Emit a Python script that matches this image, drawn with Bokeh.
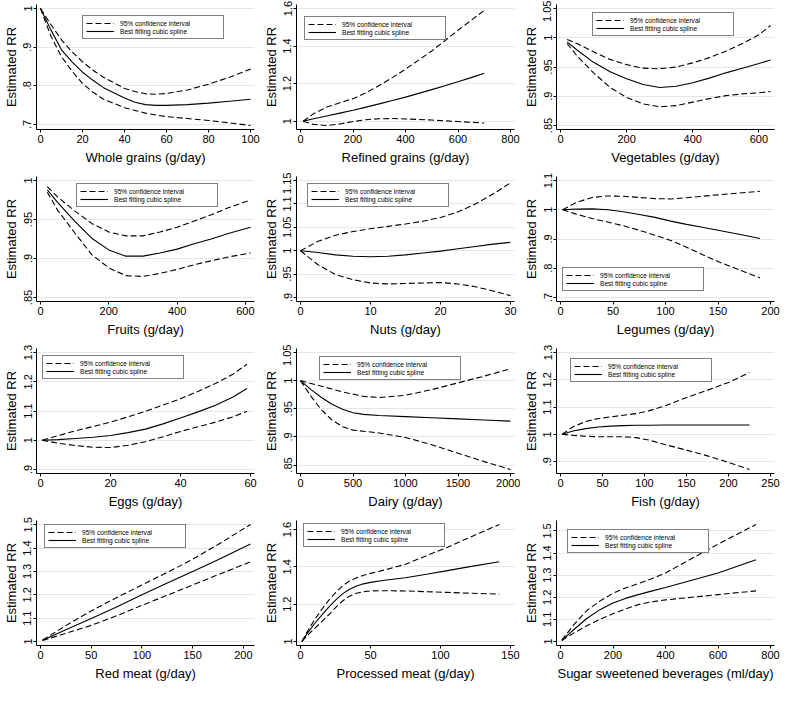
from bokeh.plotting import figure
from bokeh.layouts import gridplot
from bokeh.models import Range1d, FixedTicker, Legend, LegendItem, CustomJSTickFormatter
from bokeh.embed import file_html
from bokeh.resources import INLINE

# ---------------- data ----------------
wg_x = [0, 5, 10, 15, 20, 25, 30, 40, 45, 50, 55, 60, 70, 80, 90, 100]
wg_rr = [1.0, 0.944, 0.893, 0.862, 0.835, 0.814, 0.795, 0.768, 0.757, 0.751, 0.749, 0.749, 0.751, 0.755, 0.760, 0.765]
wg_hi = [1.0, 0.958, 0.919, 0.888, 0.862, 0.840, 0.822, 0.793, 0.785, 0.779, 0.778, 0.780, 0.789, 0.804, 0.822, 0.843]
wg_lo = [1.0, 0.928, 0.875, 0.838, 0.806, 0.783, 0.765, 0.743, 0.736, 0.729, 0.724, 0.720, 0.715, 0.710, 0.704, 0.697]
wg_xticks = [0, 20, 40, 60, 80, 100]
wg_yticks = [0.7, 0.8, 0.9, 1.0]

rg_x = [10, 50, 100, 150, 200, 250, 300, 350, 400, 450, 500, 550, 600, 650, 700]
rg_rr = [1.0, 1.013, 1.028, 1.043, 1.058, 1.075, 1.092, 1.110, 1.128, 1.148, 1.168, 1.189, 1.210, 1.232, 1.255]
rg_hi = [1.0, 1.040, 1.075, 1.098, 1.120, 1.152, 1.190, 1.232, 1.277, 1.325, 1.374, 1.428, 1.484, 1.537, 1.590]
rg_lo = [1.0, 0.983, 0.977, 0.985, 0.998, 1.008, 1.013, 1.014, 1.012, 1.009, 1.006, 1.002, 0.998, 0.994, 0.990]
rg_xticks = [0, 200, 400, 600, 800]
rg_yticks = [1.0, 1.2, 1.4, 1.6]

vg_x = [20, 50, 100, 150, 200, 250, 300, 350, 400, 450, 500, 550, 600, 635]
vg_rr = [0.993, 0.979, 0.958, 0.942, 0.930, 0.920, 0.915, 0.917, 0.923, 0.931, 0.940, 0.948, 0.956, 0.962]
vg_hi = [0.997, 0.990, 0.976, 0.963, 0.954, 0.948, 0.947, 0.950, 0.957, 0.966, 0.977, 0.990, 1.005, 1.021]
vg_lo = [0.990, 0.969, 0.940, 0.915, 0.898, 0.887, 0.882, 0.884, 0.890, 0.896, 0.901, 0.904, 0.906, 0.908]
vg_xticks = [0, 200, 400, 600]
vg_yticks = [0.85, 0.9, 0.95, 1.0, 1.05]

fr_x = [20, 50, 100, 150, 200, 250, 300, 350, 400, 450, 500, 550, 615]
fr_rr = [0.988, 0.972, 0.948, 0.926, 0.911, 0.903, 0.903, 0.907, 0.912, 0.919, 0.925, 0.932, 0.940]
fr_hi = [0.992, 0.979, 0.961, 0.945, 0.934, 0.929, 0.929, 0.934, 0.940, 0.948, 0.956, 0.965, 0.975]
fr_lo = [0.985, 0.962, 0.933, 0.905, 0.888, 0.878, 0.877, 0.881, 0.886, 0.892, 0.897, 0.902, 0.907]
fr_xticks = [0, 200, 400, 600]
fr_yticks = [0.85, 0.9, 0.95, 1.0]

nu_x = [0, 2.5, 5, 7.5, 10, 12.5, 15, 17.5, 20, 22.5, 25, 27.5, 30]
nu_rr = [1.0, 0.996, 0.991, 0.988, 0.987, 0.988, 0.991, 0.995, 0.999, 1.004, 1.009, 1.014, 1.018]
nu_hi = [1.0, 1.020, 1.033, 1.041, 1.047, 1.052, 1.057, 1.063, 1.071, 1.083, 1.100, 1.121, 1.145]
nu_lo = [1.0, 0.970, 0.949, 0.938, 0.931, 0.929, 0.930, 0.931, 0.932, 0.929, 0.923, 0.914, 0.904]
nu_xticks = [0, 10, 20, 30]
nu_yticks = [0.9, 0.95, 1.0, 1.05, 1.1, 1.15]

le_x = [2, 15, 30, 45, 60, 75, 90, 105, 120, 135, 150, 170, 190]
le_rr = [1.0, 1.002, 1.003, 1.0, 0.993, 0.984, 0.974, 0.961, 0.950, 0.940, 0.930, 0.916, 0.902]
le_hi = [1.0, 1.025, 1.042, 1.047, 1.046, 1.042, 1.038, 1.037, 1.041, 1.046, 1.051, 1.057, 1.063]
le_lo = [1.0, 0.985, 0.970, 0.958, 0.945, 0.930, 0.913, 0.895, 0.872, 0.847, 0.823, 0.795, 0.767]
le_xticks = [0, 50, 100, 150, 200]
le_yticks = [0.7, 0.8, 0.9, 1.0, 1.1]

eg_x = [0.5, 5, 10, 15, 20, 25, 30, 35, 40, 45, 50, 55, 59]
eg_rr = [1.0, 1.002, 1.006, 1.010, 1.016, 1.026, 1.038, 1.056, 1.076, 1.097, 1.120, 1.148, 1.177]
eg_hi = [1.0, 1.016, 1.032, 1.047, 1.062, 1.080, 1.099, 1.120, 1.142, 1.167, 1.194, 1.226, 1.260]
eg_lo = [1.0, 0.990, 0.982, 0.976, 0.975, 0.983, 0.995, 1.012, 1.030, 1.046, 1.062, 1.080, 1.099]
eg_xticks = [0, 20, 40, 60]
eg_yticks = [0.9, 1.0, 1.1, 1.2, 1.3]

da_x = [0, 100, 200, 300, 400, 500, 600, 750, 1000, 1250, 1500, 1750, 2000]
da_rr = [1.0, 0.984, 0.970, 0.958, 0.949, 0.943, 0.940, 0.938, 0.936, 0.934, 0.932, 0.930, 0.928]
da_hi = [1.0, 0.995, 0.990, 0.985, 0.980, 0.976, 0.972, 0.970, 0.974, 0.984, 0.996, 1.008, 1.021]
da_lo = [1.0, 0.972, 0.948, 0.930, 0.918, 0.912, 0.910, 0.907, 0.899, 0.886, 0.871, 0.856, 0.842]
da_xticks = [0, 500, 1000, 1500, 2000]
da_yticks = [0.85, 0.9, 0.95, 1.0, 1.05]

fi_x = [2, 15, 30, 45, 60, 75, 90, 105, 125, 150, 175, 200, 225]
fi_rr = [1.0, 1.012, 1.021, 1.027, 1.030, 1.032, 1.033, 1.033, 1.034, 1.034, 1.034, 1.034, 1.034]
fi_hi = [1.0, 1.028, 1.047, 1.058, 1.064, 1.070, 1.076, 1.086, 1.105, 1.135, 1.162, 1.190, 1.226]
fi_lo = [1.0, 0.996, 0.993, 0.991, 0.991, 0.991, 0.988, 0.979, 0.962, 0.942, 0.921, 0.897, 0.871]
fi_xticks = [0, 50, 100, 150, 200, 250]
fi_yticks = [0.9, 1.0, 1.1, 1.2, 1.3]

rm_x = [2, 25, 50, 75, 100, 125, 150, 175, 207]
rm_rr = [1.005, 1.050, 1.098, 1.148, 1.200, 1.250, 1.300, 1.350, 1.418]
rm_hi = [1.006, 1.068, 1.131, 1.188, 1.242, 1.296, 1.352, 1.415, 1.501]
rm_lo = [1.004, 1.035, 1.069, 1.110, 1.155, 1.198, 1.242, 1.286, 1.341]
rm_xticks = [0, 50, 100, 150, 200]
rm_yticks = [1.0, 1.1, 1.2, 1.3, 1.4, 1.5]

pm_x = [1, 5, 10, 15, 20, 25, 30, 35, 40, 45, 50, 60, 75, 90, 105, 120, 142]
pm_rr = [1.0, 1.045, 1.095, 1.140, 1.183, 1.222, 1.255, 1.280, 1.297, 1.309, 1.317, 1.328, 1.342, 1.360, 1.380, 1.400, 1.427]
pm_hi = [1.0, 1.055, 1.116, 1.170, 1.219, 1.262, 1.298, 1.324, 1.341, 1.355, 1.365, 1.383, 1.414, 1.460, 1.505, 1.555, 1.627]
pm_lo = [1.0, 1.033, 1.069, 1.105, 1.142, 1.182, 1.217, 1.243, 1.259, 1.267, 1.271, 1.272, 1.271, 1.267, 1.263, 1.259, 1.254]
pm_xticks = [0, 50, 100, 150]
pm_yticks = [1.0, 1.2, 1.4, 1.6]

sb_x = [5, 50, 100, 150, 200, 250, 300, 350, 400, 500, 600, 745]
sb_rr = [1.005, 1.053, 1.104, 1.144, 1.174, 1.196, 1.213, 1.229, 1.244, 1.277, 1.310, 1.370]
sb_hi = [1.006, 1.075, 1.140, 1.183, 1.218, 1.243, 1.263, 1.285, 1.310, 1.375, 1.440, 1.529]
sb_lo = [1.004, 1.038, 1.071, 1.100, 1.125, 1.148, 1.168, 1.180, 1.188, 1.200, 1.212, 1.229]
sb_xticks = [0, 200, 400, 600, 800]
sb_yticks = [1.0, 1.1, 1.2, 1.3, 1.4, 1.5]

# ---------------- layout / style ----------------
FONT = "Liberation Sans"
FW, FH = 218, 125
BL, BR, BT, BB = 35, 6, 4, 43
PAD = 4.0
LEG_W_LABEL = 100
LEG_H = 22

panels = [
    ("Whole grains (g/day)", wg_x, wg_rr, wg_lo, wg_hi, wg_xticks, wg_yticks, ("top", 46, 13)),
    ("Refined grains (g/day)", rg_x, rg_rr, rg_lo, rg_hi, rg_xticks, rg_yticks, ("top", 8, 14)),
    ("Vegetables (g/day)", vg_x, vg_rr, vg_lo, vg_hi, vg_xticks, vg_yticks, ("top", 36, 10)),
    ("Fruits (g/day)", fr_x, fr_rr, fr_lo, fr_hi, fr_xticks, fr_yticks, ("top", 40, 9)),
    ("Nuts (g/day)", nu_x, nu_rr, nu_lo, nu_hi, nu_xticks, nu_yticks, ("top", 11, 9)),
    ("Legumes (g/day)", le_x, le_rr, le_lo, le_hi, le_xticks, le_yticks, ("bottom", 6, 10)),
    ("Eggs (g/day)", eg_x, eg_rr, eg_lo, eg_hi, eg_xticks, eg_yticks, ("top", 6, 9)),
    ("Dairy (g/day)", da_x, da_rr, da_lo, da_hi, da_xticks, da_yticks, ("top", 23, 10)),
    ("Fish (g/day)", fi_x, fi_rr, fi_lo, fi_hi, fi_xticks, fi_yticks, ("top", 14, 12)),
    ("Red meat (g/day)", rm_x, rm_rr, rm_lo, rm_hi, rm_xticks, rm_yticks, ("top", 8, 6)),
    ("Processed meat (g/day)", pm_x, pm_rr, pm_lo, pm_hi, pm_xticks, pm_yticks, ("top", 7, 5)),
    ("Sugar sweetened beverages (ml/day)", sb_x, sb_rr, sb_lo, sb_hi, sb_xticks, sb_yticks, ("top", 11, 11)),
]

fmt = CustomJSTickFormatter(code="""
let s = String(Math.round(tick * 10000) / 10000);
if (s.startsWith('0.')) { s = s.slice(1); }
return s;
""")


def padded(lo, hi, px):
    span = hi - lo
    p = span * PAD / (px - 2 * PAD)
    return Range1d(lo - p, hi + p)


def make_panel(xlabel, x, rr, lo, hi, xticks, yticks, leg):
    xmin = min(xticks[0], min(x))
    xmax = max(xticks[-1], max(x))
    ymin = min(yticks[0], min(lo))
    ymax = max(yticks[-1], max(hi))
    p = figure(frame_width=FW, frame_height=FH, output_backend="svg", toolbar_location=None,
               x_range=padded(xmin, xmax, FW), y_range=padded(ymin, ymax, FH),
               min_border_left=BL, min_border_right=BR, min_border_top=BT, min_border_bottom=BB)
    p.outline_line_color = None
    p.background_fill_color = "white"
    p.border_fill_color = "white"

    r_hi = p.line(x, hi, line_color="black", line_width=1.1, line_dash="6 3")
    p.line(x, lo, line_color="black", line_width=1.1, line_dash="6 3")
    r_mid = p.line(x, rr, line_color="black", line_width=1.1)

    p.xaxis.ticker = FixedTicker(ticks=xticks)
    p.yaxis.ticker = FixedTicker(ticks=yticks)
    p.xaxis.formatter = fmt
    p.yaxis.formatter = fmt
    p.xgrid.visible = False
    p.ygrid.grid_line_color = "#e6e6e6"
    p.ygrid.grid_line_width = 1

    for ax in (p.xaxis[0], p.yaxis[0]):
        ax.axis_line_color = "black"
        ax.axis_line_width = 1
        ax.major_tick_line_color = "black"
        ax.major_tick_out = 3
        ax.major_tick_in = 0
        ax.minor_tick_line_color = None
        ax.major_label_text_font = FONT
        ax.major_label_text_font_size = "11px"
        ax.major_label_text_color = "black"
        ax.major_label_standoff = 2
        ax.axis_label_text_font = FONT
        ax.axis_label_text_font_size = "13px"
        ax.axis_label_text_font_style = "normal"
        ax.axis_label_text_color = "black"
    p.xaxis.axis_label = xlabel
    p.xaxis.axis_label_standoff = 4
    p.yaxis.axis_label = "Estimated RR"
    p.yaxis.axis_label_standoff = 2
    p.yaxis.major_label_orientation = "vertical"

    side, dx, dy = leg
    vy = dy if side == "bottom" else FH - dy - LEG_H
    legend = Legend(items=[LegendItem(label="95% confidence interval", renderers=[r_hi]),
                           LegendItem(label="Best fitting cubic spline", renderers=[r_mid])],
                    location=(dx, vy), margin=0, padding=3, spacing=0,
                    glyph_width=28, glyph_height=8, label_height=8,
                    label_width=LEG_W_LABEL, label_standoff=6,
                    label_text_font=FONT, label_text_font_size="6.6px",
                    label_text_color="black",
                    border_line_color="black", border_line_width=1,
                    background_fill_color="white", background_fill_alpha=1.0)
    p.add_layout(legend)
    return p


figs = [make_panel(*pn) for pn in panels]
grid = gridplot([figs[i:i + 3] for i in range(0, 12, 3)], toolbar_location=None)

open("out.html", "w").write(file_html(grid, INLINE))
